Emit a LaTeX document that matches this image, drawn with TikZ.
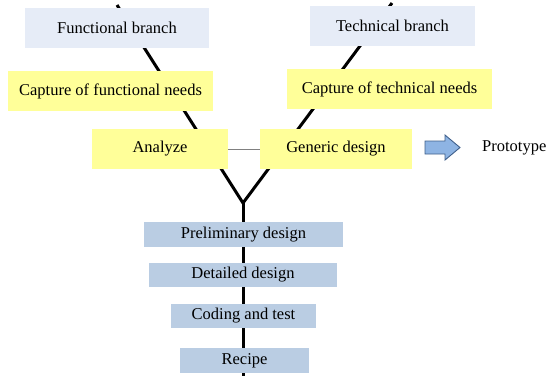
\documentclass[tikz,border=0pt]{standalone}
\usepackage{fontspec}
\setmainfont{Liberation Serif}
\definecolor{branchfill}{HTML}{E6ECF7}
\definecolor{needfill}{HTML}{FFFF99}
\definecolor{stepfill}{HTML}{BACDE3}
\definecolor{arrowfill}{HTML}{8EB4E3}
\definecolor{arrowline}{HTML}{3F5F8A}
\tikzset{
  box/.style={rectangle, inner sep=0pt, font=\fontsize{16.5}{19}\selectfont},
  branchbox/.style={box, fill=branchfill},
  needbox/.style={box, fill=needfill},
  stepbox/.style={box, fill=stepfill},
  vline/.style={line width=3pt, black},
  thinlink/.style={line width=0.8pt, gray},
  bigarrow/.style={fill=arrowfill, draw=arrowline, line width=0.9pt, line join=miter},
}
\begin{document}
\begin{tikzpicture}[x=1pt,y=-1pt]
\useasboundingbox (0,0) rectangle (547,376);
% Y skeleton
\coordinate (ltop) at (117,5);
\coordinate (rtop) at (392,3);
\coordinate (join) at (243,203);
\coordinate (bot) at (243,376);
\draw[vline] (ltop) -- (join) -- (rtop);
\draw[vline] (join) -- (bot);
% boxes
\node[branchbox, minimum width=184pt, minimum height=40pt] (fb) at (117,28) {Functional branch};
\node[needbox, minimum width=205pt, minimum height=40pt] (cf) at (110.5,91) {Capture of functional needs};
\node[needbox, minimum width=136pt, minimum height=40pt] (an) at (160,149) {Analyze};
\node[needbox, minimum width=152pt, minimum height=40pt] (gd) at (336,149) {Generic design};
\node[branchbox, minimum width=165pt, minimum height=40pt] (tb) at (392.5,26) {Technical branch};
\node[needbox, minimum width=205pt, minimum height=40pt] (ct) at (389.5,89) {Capture of technical needs};
\draw[thinlink] (an.east) -- (gd.west);
\node[stepbox, minimum width=199pt, minimum height=25pt] (pd) at (243.5,234.5) {Preliminary design};
\node[stepbox, minimum width=188pt, minimum height=24pt] (dd) at (243,275) {Detailed design};
\node[stepbox, minimum width=145pt, minimum height=24pt] (cd) at (243.5,316) {Coding and test};
\node[stepbox, minimum width=129pt, minimum height=25pt] (rc) at (244.5,360.5) {Recipe};
% arrow to prototype
\draw[bigarrow] (425,141) -- (445,141) -- (445,135) -- (460,147.5) -- (445,160) -- (445,154) -- (425,154) -- cycle;
\node[box, anchor=west] (proto) at (482,148) {Prototype};
\end{tikzpicture}
\end{document}
